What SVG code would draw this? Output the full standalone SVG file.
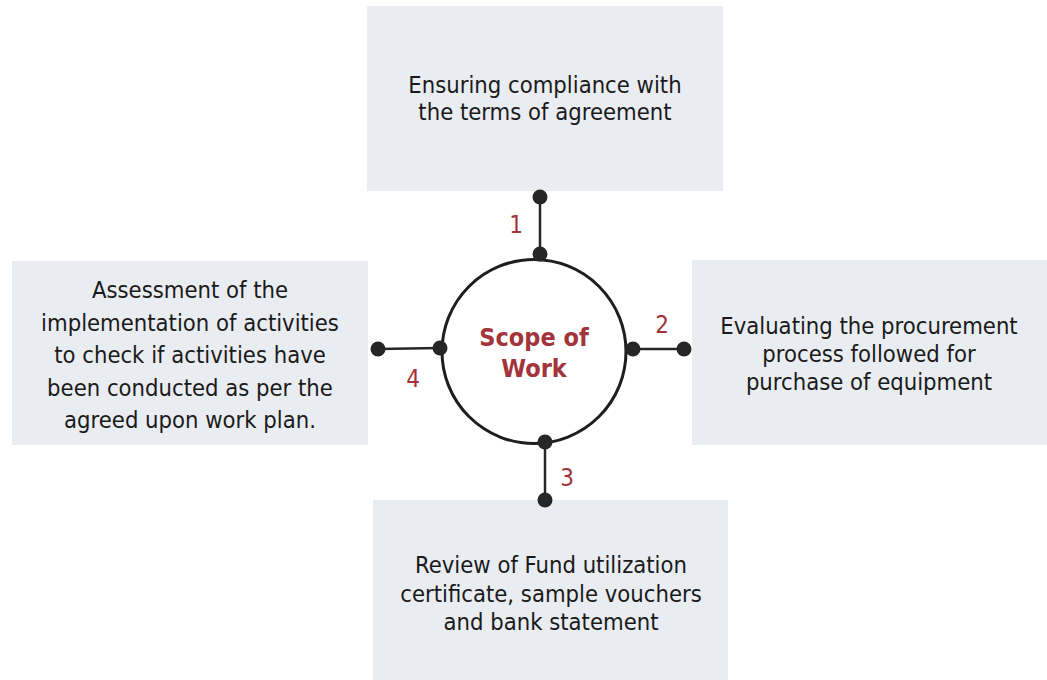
<svg xmlns="http://www.w3.org/2000/svg" width="1047" height="680" viewBox="0 0 1047 680">
<style>
.box{fill:#e9ecf1}
.t{font-family:"DejaVu Sans","Liberation Sans",sans-serif;font-stretch:condensed;font-size:23.6px;fill:#1a1a1a;text-anchor:middle}
.num{font-family:"DejaVu Sans","Liberation Sans",sans-serif;font-stretch:condensed;font-size:24px;fill:#a3343b;text-anchor:middle}
.title{font-family:"DejaVu Sans","Liberation Sans",sans-serif;font-stretch:condensed;font-weight:bold;font-size:25px;fill:#a3343b;text-anchor:middle}
.ln{stroke:#262626;stroke-width:2.5;fill:none}
.dot{fill:#262626}
</style>
<g id="top">
<rect class="box" x="367" y="6" width="356" height="185"/>
<text class="t" x="545" y="93">Ensuring compliance with</text>
<text class="t" x="545" y="120">the terms of agreement</text>
</g>
<g id="left">
<rect class="box" x="12" y="261" width="356" height="184"/>
<text class="t" x="190" y="298">Assessment of the</text>
<text class="t" x="190" y="331">implementation of activities</text>
<text class="t" x="190" y="363">to check if activities have</text>
<text class="t" x="190" y="396">been conducted as per the</text>
<text class="t" x="190" y="428">agreed upon work plan.</text>
</g>
<g id="right">
<rect class="box" x="692" y="260" width="355" height="185"/>
<text class="t" x="869" y="334">Evaluating the procurement</text>
<text class="t" x="869" y="362">process followed for</text>
<text class="t" x="869" y="390">purchase of equipment</text>
</g>
<g id="bottom">
<rect class="box" x="373" y="500" width="355" height="180"/>
<text class="t" x="551" y="573">Review of Fund utilization</text>
<text class="t" x="551" y="602">certificate, sample vouchers</text>
<text class="t" x="551" y="630">and bank statement</text>
</g>
<g id="center">
<circle cx="534" cy="351.5" r="92" fill="#fff" stroke="#1e1e1e" stroke-width="3"/>
<text class="title" x="534" y="346">Scope of</text>
<text class="title" x="534" y="377">Work</text>
</g>
<g id="connectors">
<line class="ln" x1="540" y1="197" x2="540" y2="254"/>
<circle class="dot" cx="540" cy="197" r="7.5"/>
<circle class="dot" cx="540" cy="254" r="7.5"/>
<line class="ln" x1="633" y1="349" x2="684" y2="349"/>
<circle class="dot" cx="633" cy="349" r="7.5"/>
<circle class="dot" cx="684" cy="349" r="7.5"/>
<line class="ln" x1="545" y1="442" x2="545" y2="500"/>
<circle class="dot" cx="545" cy="442" r="7.5"/>
<circle class="dot" cx="545" cy="500" r="7.5"/>
<line class="ln" x1="378" y1="349" x2="440" y2="348"/>
<circle class="dot" cx="378" cy="349" r="7.5"/>
<circle class="dot" cx="440" cy="348" r="7.5"/>
</g>
<g id="labels">
<text class="num" x="516" y="233">1</text>
<text class="num" x="662" y="333">2</text>
<text class="num" x="567" y="486">3</text>
<text class="num" x="413" y="387">4</text>
</g>
</svg>
